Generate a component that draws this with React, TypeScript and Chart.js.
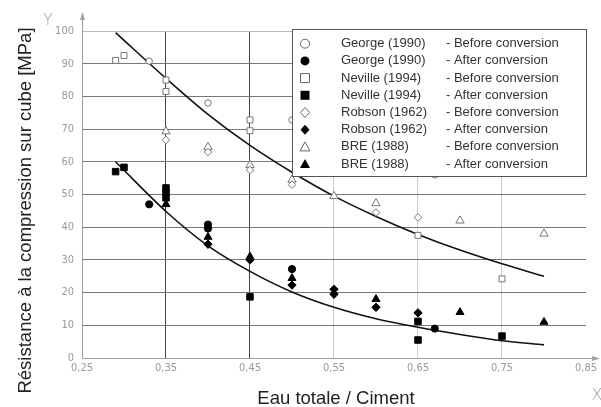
import React, { useEffect, useRef } from 'react';
import { Chart, registerables } from 'chart.js';

Chart.register(...registerables);

// ---- data ----
const xTicks = [0.25, 0.35, 0.45, 0.55, 0.65, 0.75, 0.85];

const georgeBeforeX = [0.33, 0.40, 0.50, 0.67];
const georgeBeforeY = [90.8, 78, 72.8, 56];
const georgeAfterX = [0.33, 0.40, 0.40, 0.50, 0.67];
const georgeAfterY = [47, 40.8, 39.6, 27.2, 9];

const nevilleBeforeX = [0.29, 0.30, 0.35, 0.35, 0.45, 0.45, 0.65, 0.75];
const nevilleBeforeY = [91, 92.5, 85, 81.5, 72.8, 69.5, 37.5, 24.2];
const nevilleAfterX = [0.29, 0.30, 0.35, 0.35, 0.35, 0.45, 0.65, 0.65, 0.75];
const nevilleAfterY = [57, 58.3, 52, 50.5, 49, 18.7, 11.2, 5.5, 6.7];

const robsonBeforeX = [0.35, 0.40, 0.45, 0.50, 0.60, 0.65];
const robsonBeforeY = [66.7, 63, 57.5, 53, 44.5, 43];
const robsonAfterX = [0.40, 0.45, 0.50, 0.55, 0.55, 0.60, 0.65];
const robsonAfterY = [34.8, 30, 22.3, 21, 19.5, 15.5, 13.8];

const breBeforeX = [0.35, 0.40, 0.45, 0.50, 0.55, 0.60, 0.70, 0.80];
const breBeforeY = [69.3, 64.5, 59, 54.5, 49.5, 47.3, 42, 38];
const breAfterX = [0.35, 0.40, 0.45, 0.50, 0.60, 0.70, 0.80];
const breAfterY = [47, 37, 31, 24.4, 18, 14, 11];

const curveX = [0.29, 0.35, 0.40, 0.45, 0.50, 0.55, 0.60, 0.65, 0.70, 0.75, 0.80];
const upperCurveY = [99.5, 85.5, 74.5, 65, 56.8, 49.5, 43.3, 37.8, 33, 28.8, 25];
const lowerCurveY = [60, 44.8, 34.3, 26.5, 20.2, 15.5, 12, 9.4, 7.2, 5.3, 4];

const seriesNames = [
  'George (1990)', 'George (1990)', 'Neville (1994)', 'Neville (1994)',
  'Robson (1962)', 'Robson (1962)', 'BRE (1988)', 'BRE (1988)',
];
const seriesNotes = [
  '- Before conversion', '- After conversion', '- Before conversion', '- After conversion',
  '- Before conversion', '- After conversion', '- Before conversion', '- After conversion',
];
const seriesX = [georgeBeforeX, georgeAfterX, nevilleBeforeX, nevilleAfterX, robsonBeforeX, robsonAfterX, breBeforeX, breAfterX];
const seriesY = [georgeBeforeY, georgeAfterY, nevilleBeforeY, nevilleAfterY, robsonBeforeY, robsonAfterY, breBeforeY, breAfterY];

const xTitle = 'Eau totale / Ciment';
const yTitle = 'Résistance à la compression sur cube [MPa]';

// ---- styles ----
const shapes = ['circle', 'circle', 'rect', 'rect', 'rectRot', 'rectRot', 'triangle', 'triangle'];
const filled = [false, true, false, true, false, true, false, true];
const openR: Record<string, number> = { circle: 3.2, rect: 4.2, rectRot: 3.8, triangle: 4.8 };
const fillR: Record<string, number> = { circle: 3.6, rect: 4.6, rectRot: 4.2, triangle: 4.6 };
const TEXT_FONT = "'Liberation Sans', Arial, sans-serif";
const TICK_FONT = "'DejaVu Sans Condensed', 'DejaVu Sans', sans-serif";

function pts(xs: number[], ys: number[]) {
  return xs.map((x, i) => ({ x, y: ys[i] }));
}

function drawMarker(ctx: CanvasRenderingContext2D, shape: string, x: number, y: number, isFilled: boolean) {
  ctx.beginPath();
  if (shape === 'circle') ctx.arc(x, y, 4.5, 0, Math.PI * 2);
  else if (shape === 'rect') ctx.rect(x - 4.5, y - 4.5, 9, 9);
  else if (shape === 'rectRot') {
    ctx.moveTo(x, y - 5); ctx.lineTo(x + 4.5, y); ctx.lineTo(x, y + 5); ctx.lineTo(x - 4.5, y); ctx.closePath();
  } else {
    ctx.moveTo(x, y - 5); ctx.lineTo(x + 5, y + 4); ctx.lineTo(x - 5, y + 4); ctx.closePath();
  }
  if (isFilled) {
    ctx.fillStyle = '#000';
    ctx.fill();
  } else {
    ctx.fillStyle = '#fff';
    ctx.fill();
    ctx.strokeStyle = '#666';
    ctx.lineWidth = 1;
    ctx.stroke();
  }
}

const decorPlugin = {
  id: 'decor',
  beforeDatasetsDraw(chart: any) {
    const { ctx, chartArea: a } = chart;
    ctx.save();
    ctx.strokeStyle = '#a0a0a0';
    ctx.fillStyle = '#a0a0a0';
    ctx.lineWidth = 1;
    const lx = Math.round(a.left) + 0.5;
    const by = Math.round(a.bottom) + 0.5;
    ctx.beginPath();
    ctx.moveTo(lx, by);
    ctx.lineTo(lx, 19);
    ctx.moveTo(lx, by);
    ctx.lineTo(593, by);
    ctx.stroke();
    ctx.beginPath();
    ctx.moveTo(lx, 12);
    ctx.lineTo(lx - 2.5, 20);
    ctx.lineTo(lx + 2.5, 20);
    ctx.closePath();
    ctx.fill();
    ctx.beginPath();
    ctx.moveTo(600, by);
    ctx.lineTo(592, by - 2.5);
    ctx.lineTo(592, by + 2.5);
    ctx.closePath();
    ctx.fill();
    ctx.fillStyle = '#9a9a9a';
    ctx.font = "200 16px 'DejaVu Sans', sans-serif";
    ctx.textAlign = 'center';
    ctx.textBaseline = 'alphabetic';
    ctx.fillText('Y', 48, 25);
    ctx.fillText('X', 597, 400);
    ctx.restore();
  },
  afterDatasetsDraw(chart: any) {
    const { ctx } = chart;
    ctx.save();
    // legend box
    ctx.fillStyle = '#fff';
    ctx.fillRect(292, 29, 295, 148);
    ctx.strokeStyle = '#555';
    ctx.lineWidth = 1;
    ctx.strokeRect(292.5, 29.5, 294, 147);
    ctx.font = `13px ${TEXT_FONT}`;
    ctx.textBaseline = 'middle';
    ctx.textAlign = 'left';
    for (let i = 0; i < seriesNames.length; i++) {
      const y = 43.7 + i * 17.2;
      drawMarker(ctx, shapes[i], 305, y, filled[i]);
      ctx.fillStyle = '#333';
      ctx.fillText(seriesNames[i], 341, y);
      ctx.fillText(seriesNotes[i], 446, y);
    }
    // axis titles
    ctx.fillStyle = '#222';
    ctx.font = `18.5px ${TEXT_FONT}`;
    ctx.textAlign = 'center';
    ctx.textBaseline = 'alphabetic';
    ctx.fillText(xTitle, 336, 404);
    ctx.translate(31, 210.5);
    ctx.rotate(-Math.PI / 2);
    ctx.fillText(yTitle, 0, 0);
    ctx.restore();
  },
};

export default function App() {
  const ref = useRef<HTMLCanvasElement | null>(null);

  useEffect(() => {
    document.body.style.margin = '0';
    if (!ref.current) return;

    const pointSets = seriesNames.map((name, i) => {
      const shape = shapes[i];
      const isFilled = filled[i];
      return {
        type: 'scatter' as const,
        label: `${name} ${seriesNotes[i]}`,
        data: pts(seriesX[i], seriesY[i]),
        pointStyle: shape,
        pointRadius: isFilled ? fillR[shape] : openR[shape],
        pointBackgroundColor: isFilled ? '#000' : '#fff',
        pointBorderColor: isFilled ? '#000' : '#777',
        pointBorderWidth: 1,
        showLine: false,
        order: 1,
      };
    });

    const curveSets = [upperCurveY, lowerCurveY].map((ys, i) => ({
      type: 'scatter' as const,
      label: i === 0 ? 'fit before' : 'fit after',
      data: pts(curveX, ys),
      showLine: true,
      borderColor: '#111',
      borderWidth: 1.6,
      pointRadius: 0,
      cubicInterpolationMode: 'monotone' as const,
      order: 5,
    }));

    const chart = new Chart(ref.current, {
      type: 'scatter',
      data: { datasets: [...curveSets, ...pointSets] as any },
      plugins: [decorPlugin as any],
      options: {
        animation: false,
        responsive: false,
        layout: { padding: { top: 31, right: 15, left: 0, bottom: 0 } },
        plugins: { legend: { display: false }, tooltip: { enabled: false } },
        scales: {
          x: {
            type: 'linear',
            min: 0.25,
            max: 0.85,
            afterBuildTicks: (s: any) => {
              s.ticks = xTicks.map((v) => ({ value: v }));
            },
            afterFit: (s: any) => {
              s.height = 49;
            },
            border: { display: false },
            grid: {
              drawTicks: false,
              lineWidth: 1,
              color: (c: any) => {
                const v = Math.round((c.tick?.value ?? 0) * 100);
                if (v === 35 || v === 45) return '#444';
                if (v === 25 || v === 85) return 'rgba(0,0,0,0)';
                return '#cdcdcd';
              },
            },
            ticks: {
              padding: 4,
              color: '#999',
              font: { family: TICK_FONT, size: 11 },
              callback: (v: any) => Number(v).toFixed(2).replace('.', ','),
            },
          },
          y: {
            type: 'linear',
            min: 0,
            max: 100,
            afterFit: (s: any) => {
              s.width = 82;
            },
            border: { display: false },
            grid: {
              drawTicks: false,
              lineWidth: 1,
              color: (c: any) => {
                const v = c.tick?.value ?? 0;
                if (v === 0) return 'rgba(0,0,0,0)';
                if (v === 100) return '#bbb';
                return '#777';
              },
            },
            ticks: {
              stepSize: 10,
              padding: 8,
              color: '#999',
              font: { family: TICK_FONT, size: 11 },
            },
          },
        },
      },
    });
    return () => chart.destroy();
  }, []);

  return (
    <div style={{ position: 'absolute', left: 0, top: 0, width: 601, height: 407, background: '#fff' }}>
      <canvas ref={ref} width={601} height={407} style={{ display: 'block', width: 601, height: 407 }} />
    </div>
  );
}
